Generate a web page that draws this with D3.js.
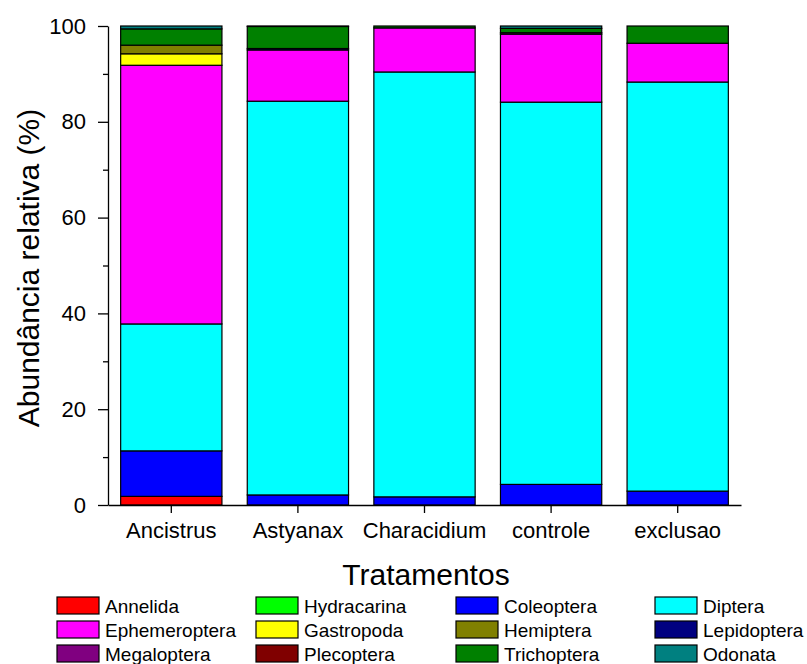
<!DOCTYPE html>
<html><head><meta charset="utf-8">
<script src="https://cdn.jsdelivr.net/npm/d3@7"></script>
<style>body{margin:0;background:#fff;} svg{display:block;font-family:Arial,"Liberation Sans",sans-serif;}</style>
</head><body><svg id="c" width="807" height="664"></svg>
<script>
const categories = ["Ancistrus","Astyanax","Characidium","controle","exclusao"];
const taxa = ["Annelida","Hydracarina","Coleoptera","Diptera","Ephemeroptera","Gastropoda","Hemiptera","Lepidoptera","Megaloptera","Plecoptera","Trichoptera","Odonata"];
const colors = ["#FF0000","#00FF00","#0000FF","#00FFFF","#FF00FF","#FFFF00","#808000","#000080","#800080","#800000","#008000","#008080"];
// values per taxon, one per category (%)
const Annelida      = [1.8, 0, 0, 0, 0];
const Hydracarina   = [0, 0, 0, 0, 0];
const Coleoptera    = [9.5, 2.1, 1.7, 4.3, 2.9];
const Diptera       = [26.5, 82.2, 88.7, 79.8, 85.4];
const Ephemeroptera = [54.0, 10.7, 9.2, 14.2, 8.1];
const Gastropoda    = [2.4, 0, 0, 0, 0];
const Hemiptera     = [1.8, 0, 0, 0, 0];
const Lepidoptera   = [0, 0.3, 0, 0, 0];
const Megaloptera   = [0, 0, 0, 0.3, 0];
const Plecoptera    = [0, 0, 0, 0, 0];
const Trichoptera   = [3.4, 4.6, 0.4, 0.9, 3.6];
const Odonata       = [0.6, 0.1, 0, 0.5, 0];
const yTicks = [0,20,40,60,80,100];
const yMinorTicks = [10,30,50,70,90];
const seriesVals = [Annelida,Hydracarina,Coleoptera,Diptera,Ephemeroptera,Gastropoda,Hemiptera,Lepidoptera,Megaloptera,Plecoptera,Trichoptera,Odonata];

const table = categories.map((c,i)=>{const o={cat:c}; taxa.forEach((t,j)=>o[t]=seriesVals[j][i]); return o;});
const stack = d3.stack().keys(taxa)(table);

const svg = d3.select("#c");
const m = {l:108, r:741, t:26, b:505};
const x = d3.scaleBand().domain(categories).range([m.l, m.r]).paddingInner(0.2).paddingOuter(0.1);
const y = d3.scaleLinear().domain([0,100]).range([m.b, m.t]);
const color = d3.scaleOrdinal().domain(taxa).range(colors);

svg.append("g").selectAll("g").data(stack).join("g")
  .attr("fill", d=>color(d.key))
  .selectAll("rect").data(d=>d).join("rect")
  .attr("x", d=>x(d.data.cat))
  .attr("width", x.bandwidth())
  .attr("y", d=>y(d[1]))
  .attr("height", d=>Math.max(0, y(d[0])-y(d[1])))
  .attr("stroke", d=>(d[1]-d[0])>0 ? "#000" : "none")
  .attr("stroke-width", 1.2);

// y axis
const yAx = svg.append("g").attr("transform",`translate(${m.l},0)`)
  .call(d3.axisLeft(y).tickValues(yTicks).tickSize(10).tickSizeOuter(0).tickPadding(12));
svg.append("g").attr("transform",`translate(${m.l},0)`)
  .call(d3.axisLeft(y).tickValues(yMinorTicks).tickSize(5).tickFormat("").tickSizeOuter(0))
  .select(".domain").remove();
yAx.selectAll("text").style("font-size","22px").attr("fill","#000");
svg.selectAll(".tick line").attr("stroke","#000").attr("stroke-width",1.3);
yAx.select(".domain").attr("stroke","#000").attr("stroke-width",1.3);

// x axis
const xAx = svg.append("g").attr("transform",`translate(0,${m.b})`)
  .call(d3.axisBottom(x).tickSize(8).tickSizeOuter(0).tickPadding(9));
xAx.selectAll("text").style("font-size","22px").attr("fill","#000");
xAx.selectAll(".tick line").attr("stroke","#000").attr("stroke-width",1.3);
xAx.select(".domain").attr("stroke","#000").attr("stroke-width",1.3);

svg.append("text").attr("x",426).attr("y",585).attr("text-anchor","middle")
  .style("font-size","30px").text("Tratamentos");
svg.append("text").attr("transform","translate(39,268) rotate(-90)").attr("text-anchor","middle")
  .style("font-size","30px").text("Abundância relativa (%)");

// legend
const colX = [57, 256, 456, 655];
const rowY = [606, 630, 654];
const lg = svg.append("g").selectAll("g").data(taxa).join("g")
  .attr("transform",(d,i)=>`translate(${colX[i%4]},${rowY[Math.floor(i/4)]})`);
lg.append("rect").attr("x",0).attr("y",-9).attr("width",42).attr("height",17)
  .attr("fill",d=>color(d)).attr("stroke","#000").attr("stroke-width",1.2);
lg.append("text").attr("x",48).attr("y",0).attr("dy","0.35em").style("font-size","19px").text(d=>d);
</script></body></html>
